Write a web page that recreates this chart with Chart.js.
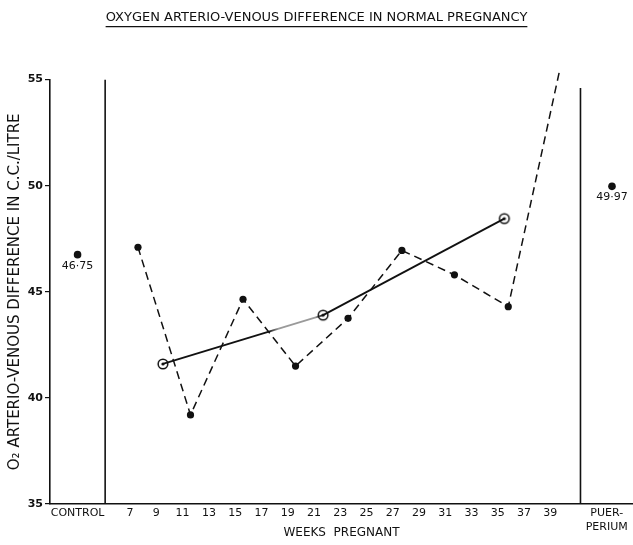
<!DOCTYPE html>
<html>
<head>
<meta charset="utf-8">
<script src="https://cdn.jsdelivr.net/npm/chart.js@4.4.1/dist/chart.umd.min.js"></script>
<style>
  html, body { margin: 0; padding: 0; background: #ffffff; }
  #wrap { width: 633px; height: 545px; position: relative; }
</style>
</head>
<body>
<div id="wrap"><canvas id="c" width="633" height="545"></canvas></div>
<script>
// ---- Data ----
const titleText = 'OXYGEN ARTERIO-VENOUS DIFFERENCE IN NORMAL PREGNANCY';
const yTitle = 'O\u2082 ARTERIO-VENOUS DIFFERENCE IN C.C./LITRE';
const xTitle = 'WEEKS  PREGNANT';

// weekly groups (dashed line, filled dots)
const groupWeeks  = [7.6, 11.6, 15.6, 19.6, 23.6, 27.7, 31.7, 35.8, 39.7];
const groupValues = [47.1, 39.2, 44.65, 41.5, 43.75, 46.95, 45.8, 44.3, 55.4];

// trimester means (solid line, ringed dots)
const trimesterWeeks  = [9.5, 21.7, 35.5];
const trimesterValues = [41.6, 43.9, 48.45];

// control and puerperium values
const referenceWeeks  = [3, 43.7];
const referenceValues = [46.75, 49.97];
const referenceLabels = ['46\u00B775', '49\u00B797'];

// section dividers (x position in week units, top value)
const dividerWeeks = [5.1, 41.3];
const dividerTops  = [55, 54.6];

// x tick positions and labels
const xTickValues = [3, 7, 9, 11, 13, 15, 17, 19, 21, 23, 25, 27, 29, 31, 33, 35, 37, 39, 43.3];
const xTickLabels = ['CONTROL', '7', '9', '11', '13', '15', '17', '19', '21', '23', '25', '27', '29', '31', '33', '35', '37', '39', ['PUER-', 'PERIUM']];
const yTickValues = [35, 40, 45, 50, 55];

// ---- Rendering ----
const FONT = "'DejaVu Sans', 'Liberation Sans', sans-serif";
const INK = '#111111';

function ringedDot() {
  const c = document.createElement('canvas');
  c.width = 14; c.height = 14;
  const g = c.getContext('2d');
  g.strokeStyle = INK; g.lineWidth = 1.5;
  g.beginPath(); g.arc(7, 7, 4.8, 0, Math.PI * 2); g.stroke();
  g.fillStyle = INK;
  g.beginPath(); g.arc(7, 7, 1.6, 0, Math.PI * 2); g.fill();
  return c;
}

const toPts = (xs, ys) => xs.map((x, i) => ({ x: x, y: ys[i] }));

const dividerSets = dividerWeeks.map((w, i) => ({
  data: [{ x: w, y: 35 }, { x: w, y: dividerTops[i] }],
  borderColor: INK, borderWidth: 1.6, pointRadius: 0, showLine: true, fill: false
}));

// first trimester segment fades into a faint dotted stretch in the reference
function fadeSegment(ctx) {
  if (ctx.p0DataIndex !== 0) return INK;
  const g = ctx.chart.ctx.createLinearGradient(ctx.p0.x, 0, ctx.p1.x, 0);
  g.addColorStop(0, INK);
  g.addColorStop(0.66, INK);
  g.addColorStop(0.72, '#9a9a9a');
  g.addColorStop(0.95, '#9a9a9a');
  g.addColorStop(1, INK);
  return g;
}

const underlinePlugin = {
  id: 'underlineAndLabels',
  afterDraw(chart) {
    const ctx = chart.ctx;
    const tOpt = chart.options.plugins.title;
    const tb = chart.titleBlock;
    ctx.save();
    ctx.font = tOpt.font.size + 'px ' + FONT;
    const w = ctx.measureText(titleText).width;
    const cx = (tb.left + tb.right) / 2;
    const ty = tb.top + tOpt.padding.top + tOpt.font.size * 1.2 + 1;
    ctx.strokeStyle = INK; ctx.lineWidth = 1.2;
    ctx.beginPath(); ctx.moveTo(cx - w / 2, ty); ctx.lineTo(cx + w / 2, ty); ctx.stroke();
    const meta = chart.getDatasetMeta(2);
    ctx.fillStyle = INK;
    ctx.font = '11px ' + FONT;
    ctx.textAlign = 'center'; ctx.textBaseline = 'middle';
    meta.data.forEach((pt, i) => {
      ctx.fillText(referenceLabels[i], pt.x, pt.y + 11);
    });
    ctx.restore();
  }
};

new Chart(document.getElementById('c'), {
  type: 'scatter',
  data: {
    datasets: [
      {
        label: 'groups',
        data: toPts(groupWeeks, groupValues),
        showLine: true, borderColor: INK, borderWidth: 1.5, borderDash: [8, 5],
        pointRadius: 3.6, pointBackgroundColor: INK, pointBorderColor: INK, pointBorderWidth: 0,
        clip: false
      },
      {
        label: 'trimesters',
        data: toPts(trimesterWeeks, trimesterValues),
        showLine: true, borderColor: INK, borderWidth: 1.8,
        segment: { borderColor: fadeSegment },
        pointStyle: ringedDot(), pointRadius: 6, clip: false
      },
      {
        label: 'reference',
        data: toPts(referenceWeeks, referenceValues),
        showLine: false, pointRadius: 3.8, pointBackgroundColor: INK, pointBorderColor: INK, pointBorderWidth: 0,
        clip: false
      },
      ...dividerSets
    ]
  },
  options: {
    responsive: false,
    animation: false,
    devicePixelRatio: 1,
    layout: { autoPadding: false, padding: { left: 0, right: 0, top: 0, bottom: 2 } },
    plugins: {
      legend: { display: false },
      tooltip: { enabled: false },
      title: {
        display: true, text: titleText, color: INK,
        font: { family: FONT, size: 13, weight: 'normal' },
        padding: { top: 10, bottom: 54 }
      }
    },
    scales: {
      x: {
        type: 'linear', min: 0.9, max: 45.3,
        afterBuildTicks: (s) => { s.ticks = xTickValues.map(v => ({ value: v })); },
        afterFit: (s) => { s.height = 39; s.paddingLeft = 0; s.paddingRight = 0; },
        ticks: {
          autoSkip: false, maxRotation: 0, color: INK, padding: 3,
          font: { family: FONT, size: 11 },
          callback: (v, i) => xTickLabels[i]
        },
        grid: { display: false, drawTicks: false },
        border: { display: true, color: INK, width: 1.6 },
        title: {
          display: true, text: xTitle, color: INK,
          font: { family: FONT, size: 12 }, padding: { top: 0, bottom: 3 }
        }
      },
      y: {
        type: 'linear', min: 35, max: 55,
        afterBuildTicks: (s) => { s.ticks = yTickValues.map(v => ({ value: v })); },
        afterFit: (s) => { s.width = 50; },
        ticks: {
          color: INK, padding: 2,
          font: { family: FONT, size: 11, weight: 'bold' }
        },
        grid: { display: true, drawOnChartArea: false, drawTicks: true, tickLength: 5, color: INK, lineWidth: 1.2 },
        border: { display: true, color: INK, width: 1.6 },
        title: {
          display: true, text: yTitle, color: INK,
          font: { family: FONT, size: 15 }, padding: { top: 6, bottom: 0 }
        }
      }
    }
  },
  plugins: [underlinePlugin]
});
</script>
</body>
</html>
